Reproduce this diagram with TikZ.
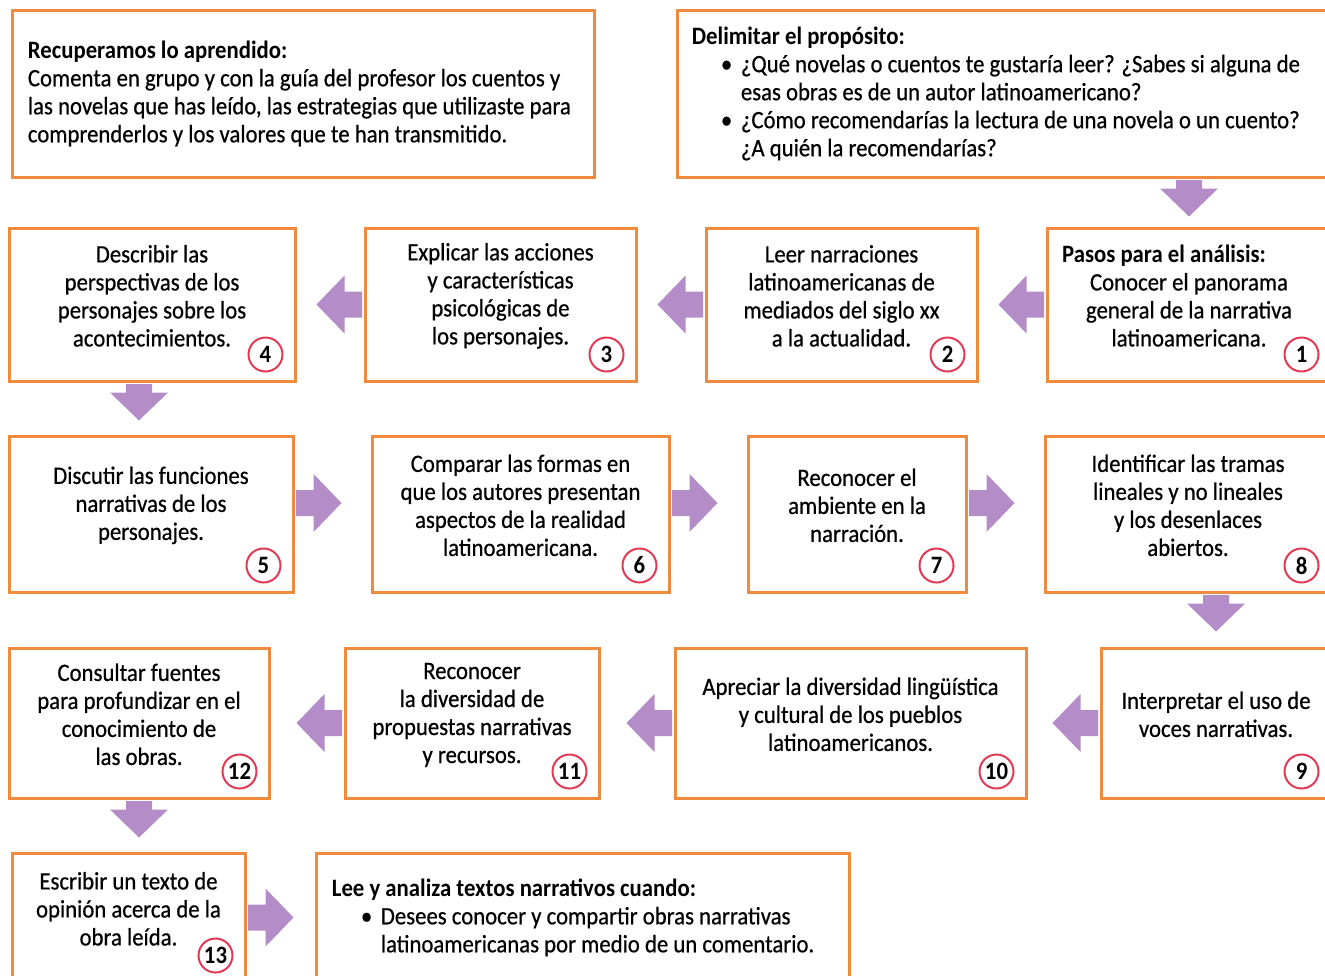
\documentclass[tikz,border=0pt]{standalone}
\usepackage{fontspec}
\setmainfont{Carlito}[FakeStretch=0.91, UprightFeatures={FakeBold=0.6}]
\usetikzlibrary{calc, fit, positioning}
\definecolor{boxOrange}{HTML}{F08A3C}
\definecolor{stepPurple}{HTML}{B48CC8}
\definecolor{numRed}{HTML}{E23A55}
\tikzset{
    stepBox/.style={draw=boxOrange, line width=1.5pt, fill=white, inner sep=0pt, align=center, font=\fontsize{12.5}{14}\selectfont},
    stepText/.style={inner sep=0pt, align=left, font=\fontsize{12.5}{14}\selectfont},
    stepNum/.style={circle, draw=numRed, line width=1pt, fill=white, inner sep=0pt, minimum size=17pt, font=\fontsize{12.5}{12}\selectfont\bfseries},
    stepArrow/.style={fill=stepPurple, draw=none},
}
\newcommand{\drawStep}[3][23.5pt]{
    % tail on the box edge, tip #1 further towards #3
    \coordinate (st0) at (#2);
    \coordinate (st) at ($(st0)!0.75pt!(#3)$);
    \coordinate (tp) at ($(st0)!#1!(#3)$);
    \coordinate (nk) at ($(tp)!14pt!(st)$);
    \fill[stepArrow] ($(st)!6.5pt!90:(tp)$) -- ($(nk)!6.5pt!-90:(st)$) -- ($(nk)!14.5pt!-90:(st)$) -- (tp)
        -- ($(nk)!14.5pt!90:(st)$) -- ($(nk)!6.5pt!90:(st)$) -- ($(st)!6.5pt!-90:(tp)$) -- cycle;
}
\newcommand{\stepNumber}[2]{
    \node[stepNum] (n#2) at ($(#1.south east)+(-31,-28)$) {#2};
}
\newcommand{\bulletLine}[1]{\hspace*{14.5pt}\makebox[10pt][l]{\textbullet}#1}
\newcommand{\hangLine}[1]{\hspace*{24.5pt}#1}

\begin{document}
\begin{tikzpicture}[x=0.5pt, y=-0.5pt]
    \useasboundingbox[fill=white] (0,0) rectangle (1325,975);

    \node[stepBox, fit={(12,10) (594,177)}] (recall) {};
    \node[stepText, anchor=west] (recallText) at ($(recall.west)+(17,0)$)
        {\textbf{Recuperamos lo aprendido:}\\
         Comenta en grupo y con la guía del profesor los cuentos y\\
         las novelas que has leído, las estrategias que utilizaste para\\
         comprenderlos y los valores que te han transmitido.};

    \node[stepBox, fit={(677,10) (1331,177)}] (purpose) {};
    \node[stepText, anchor=west] (purposeText) at ($(purpose.west)+(16,0)$)
        {\textbf{Delimitar el propósito:}\\
         \bulletLine{¿Qué novelas o cuentos te gustaría leer? ¿Sabes si alguna de}\\
         \hangLine{esas obras es de un autor latinoamericano?}\\
         \bulletLine{¿Cómo recomendarías la lectura de una novela o un cuento?}\\
         \hangLine{¿A quién la recomendarías?}};

    \node[stepBox, fit={(1047,228) (1331,381)}] (s1) {\hspace*{-25pt}\textbf{Pasos para el análisis:}\\ Conocer el panorama\\ general de la narrativa\\ latinoamericana.};
    \node[stepBox, fit={(706,228) (977,381)}] (s2) {Leer narraciones\\ latinoamericanas de\\ mediados del siglo \textsc{xx}\\ a la actualidad.};
    \node[stepBox, fit={(365,228) (636,381)}] (s3) {Explicar las acciones\\ y características\\ psicológicas de\\ los personajes.};
    \node[stepBox, fit={(9,228) (295,381)}] (s4) {Describir las\\ perspectivas de los\\ personajes sobre los\\ acontecimientos.};

    \node[stepBox, fit={(9,436) (293,592)}] (s5) {Discutir las funciones\\ narrativas de los\\ personajes.};
    \node[stepBox, fit={(372,436) (669,592)}] (s6) {Comparar las formas en\\ que los autores presentan\\ aspectos de la realidad\\ latinoamericana.};
    \node[stepBox, fit={(748,436) (966,592)}] (s7) {Reconocer el\\ ambiente en la\\ narración.};
    \node[stepBox, fit={(1045,436) (1331,592)}] (s8) {Identificar las tramas\\ lineales y no lineales\\ y los desenlaces\\ abiertos.};

    \node[stepBox, fit={(1101,648) (1331,798)}] (s9) {Interpretar el uso de\\ voces narrativas.};
    \node[stepBox, fit={(675,648) (1026,798)}] (s10) {Apreciar la diversidad lingüística\\ y cultural de los pueblos\\ latinoamericanos.};
    \node[stepBox, fit={(345,648) (599,798)}] (s11) {Reconocer\\ la diversidad de\\ propuestas narrativas\\ y recursos.};
    \node[stepBox, fit={(9,648) (269,798)}] (s12) {Consultar fuentes\\ para profundizar en el\\ conocimiento de\\ las obras.};

    \node[stepBox, fit={(12,853) (245,982)}] (s13) {Escribir un texto de\\ opinión acerca de la\\ obra leída.};
    \node[stepBox, fit={(316,853) (849,982)}] (final) {};
    \node[stepText, anchor=west] (finalText) at ($(final.west)+(17,0)$)
        {\textbf{Lee y analiza textos narrativos cuando:}\\
         \bulletLine{Desees conocer y compartir obras narrativas}\\
         \hangLine{latinoamericanas por medio de un comentario.}};

    \stepNumber{s1}{1}
    \stepNumber{s2}{2}
    \stepNumber{s3}{3}
    \stepNumber{s4}{4}
    \stepNumber{s5}{5}
    \stepNumber{s6}{6}
    \stepNumber{s7}{7}
    \stepNumber{s8}{8}
    \stepNumber{s9}{9}
    \stepNumber{s10}{10}
    \stepNumber{s11}{11}
    \stepNumber{s12}{12}
    \stepNumber{s13}{13}

    \drawStep[19pt]{purpose.south -| s1.north}{s1.north}
    \drawStep{s1.west}{s2.east}
    \drawStep{s2.west}{s3.east}
    \drawStep{s3.west}{s4.east}
    \drawStep[19pt]{$(s4.south)+(-13,0)$}{$(s4.south)+(-13,60)$}
    \drawStep{$(s5.east)+(0,-11)$}{$(s6.west)+(0,-11)$}
    \drawStep{$(s6.east)+(0,-11)$}{$(s7.west)+(0,-11)$}
    \drawStep{$(s7.east)+(0,-11)$}{$(s8.west)+(0,-11)$}
    \drawStep[19pt]{s8.south -| s9.north}{s9.north}
    \drawStep{s9.west}{s10.east}
    \drawStep{s10.west}{s11.east}
    \drawStep{s11.west}{s12.east}
    \drawStep[19pt]{s12.south}{s12.south |- s13.north}
    \drawStep{s13.east}{final.west}
\end{tikzpicture}
\end{document}
